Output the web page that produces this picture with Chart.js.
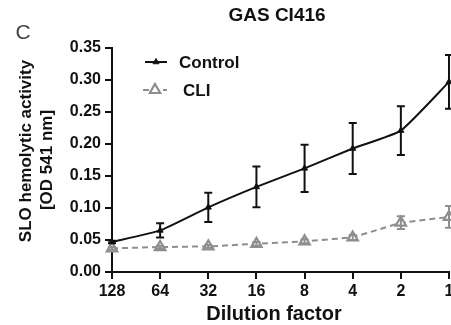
<!DOCTYPE html>
<html>
<head>
<meta charset="utf-8">
<script src="https://cdn.jsdelivr.net/npm/chart.js@4"></script>
<style>
html,body{margin:0;padding:0;background:#fff;}
#c{display:block;}
</style>
</head>
<body>
<canvas id="c" width="451" height="325"></canvas>
<script>
// ---- data ----
const categories = ['128', '64', '32', '16', '8', '4', '2', '1'];
const controlMean = [0.047, 0.065, 0.101, 0.133, 0.162, 0.193, 0.221, 0.297];
const controlErr  = [0.002, 0.011, 0.023, 0.032, 0.037, 0.040, 0.038, 0.042];
const cliMean = [0.037, 0.039, 0.040, 0.044, 0.048, 0.054, 0.077, 0.086];
const cliErr  = [0.002, 0.002, 0.002, 0.003, 0.003, 0.004, 0.010, 0.017];
const seriesNames = ['Control', 'CLI'];
const chartTitle = 'GAS CI416';
const panelLetter = 'C';
const yTitleLines = ['SLO hemolytic activity', '[OD 541 nm]'];
const xTitle = 'Dilution factor';

const FONT = '"Liberation Sans", Arial, Helvetica, sans-serif';
const GREY = '#8e8e8e';
const errors = [controlErr, cliErr];

const errorBarPlugin = {
  id: 'errorBars',
  afterDatasetsDraw(chart) {
    const ctx = chart.ctx;
    const xs = chart.scales.x, ys = chart.scales.y;
    chart.data.datasets.forEach((ds, i) => {
      const err = errors[i];
      ctx.save();
      ctx.strokeStyle = ds.borderColor;
      ctx.lineWidth = 2;
      ds.data.forEach((v, j) => {
        const x = xs.getPixelForValue(j);
        const yt = ys.getPixelForValue(v + err[j]);
        const yb = ys.getPixelForValue(v - err[j]);
        ctx.beginPath();
        ctx.moveTo(x, yt); ctx.lineTo(x, yb);
        ctx.moveTo(x - 4, yt); ctx.lineTo(x + 4, yt);
        ctx.moveTo(x - 4, yb); ctx.lineTo(x + 4, yb);
        ctx.stroke();
      });
      ctx.restore();
    });
  }
};

const textPlugin = {
  id: 'texts',
  afterDraw(chart) {
    const ctx = chart.ctx;
    ctx.save();
    ctx.fillStyle = '#111';
    ctx.textAlign = 'center';
    ctx.textBaseline = 'middle';
    // title
    ctx.font = 'bold 19px ' + FONT;
    ctx.fillText(chartTitle, 277, 16);
    // panel letter
    ctx.fillStyle = '#444';
    ctx.font = '21px ' + FONT;
    ctx.fillText(panelLetter, 23, 33);
    // x title
    ctx.fillStyle = '#111';
    ctx.font = 'bold 20px ' + FONT;
    ctx.fillText(xTitle, 274, 314);
    // y title (rotated)
    ctx.font = 'bold 17px ' + FONT;
    ctx.save();
    ctx.translate(26, 151);
    ctx.rotate(-Math.PI / 2);
    ctx.fillText(yTitleLines[0], 0, 0);
    ctx.restore();
    ctx.save();
    ctx.translate(47, 160);
    ctx.rotate(-Math.PI / 2);
    ctx.fillText(yTitleLines[1], 0, 0);
    ctx.restore();
    // legend
    const legendPos = [{x1: 145, x2: 167, y: 62, tx: 179}, {x1: 143, x2: 167, y: 90, tx: 183}];
    chart.data.datasets.forEach((ds, i) => {
      const p = legendPos[i];
      ctx.save();
      ctx.strokeStyle = ds.borderColor;
      ctx.lineWidth = ds.borderWidth;
      ctx.setLineDash(ds.borderDash || []);
      ctx.beginPath();
      ctx.moveTo(p.x1, p.y); ctx.lineTo(p.x2, p.y);
      ctx.stroke();
      ctx.setLineDash([]);
      ctx.fillStyle = ds.pointBackgroundColor;
      ctx.strokeStyle = ds.pointBorderColor;
      ctx.lineWidth = ds.pointBorderWidth;
      Chart.helpers.drawPoint(ctx, {pointStyle: 'triangle', radius: ds.pointRadius, rotation: 0, borderWidth: ds.pointBorderWidth}, (p.x1 + p.x2) / 2, p.y);
      ctx.restore();
      ctx.fillStyle = '#111';
      ctx.textAlign = 'left';
      ctx.font = 'bold 17px ' + FONT;
      ctx.fillText(ds.label, p.tx, p.y + 1);
    });
    ctx.restore();
  }
};

new Chart(document.getElementById('c'), {
  type: 'line',
  data: {
    labels: categories,
    datasets: [
      {
        label: seriesNames[0],
        data: controlMean,
        borderColor: '#111',
        borderWidth: 2,
        tension: 0.15,
        pointStyle: 'triangle',
        pointRadius: 3.5,
        pointBackgroundColor: '#111',
        pointBorderColor: '#111',
        pointBorderWidth: 1,
        fill: false,
        clip: false
      },
      {
        label: seriesNames[1],
        data: cliMean,
        borderColor: GREY,
        borderWidth: 2,
        borderDash: [6, 4],
        tension: 0,
        pointStyle: 'triangle',
        pointRadius: 6,
        pointBackgroundColor: '#fff',
        pointBorderColor: GREY,
        pointBorderWidth: 2.2,
        fill: false,
        clip: false
      }
    ]
  },
  options: {
    responsive: false,
    animation: false,
    devicePixelRatio: 1,
    layout: {autoPadding: false, padding: {top: 48, right: 2, left: 0, bottom: 0}},
    plugins: {legend: {display: false}, title: {display: false}, tooltip: {enabled: false}},
    scales: {
      x: {
        type: 'category',
        offset: false,
        grid: {display: true, drawOnChartArea: false, drawTicks: true, tickLength: 7, color: '#111', lineWidth: 2},
        border: {display: true, color: '#111', width: 2},
        ticks: {color: '#111', font: {family: FONT, size: 16, weight: 'bold'}, padding: 3, maxRotation: 0, autoSkip: false},
        title: {display: false},
        afterFit(s) { s.height = 53; s.paddingRight = 0; s.paddingLeft = 0; }
      },
      y: {
        min: 0, max: 0.35,
        grid: {display: true, drawOnChartArea: false, drawTicks: true, tickLength: 7, color: '#111', lineWidth: 2},
        border: {display: true, color: '#111', width: 2},
        ticks: {stepSize: 0.05, color: '#111', font: {family: FONT, size: 16, weight: 'bold'}, padding: 4,
                callback: v => Number(v).toFixed(2)},
        title: {display: false},
        afterFit(s) { s.width = 112; }
      }
    }
  },
  plugins: [errorBarPlugin, textPlugin]
});
</script>
</body>
</html>
